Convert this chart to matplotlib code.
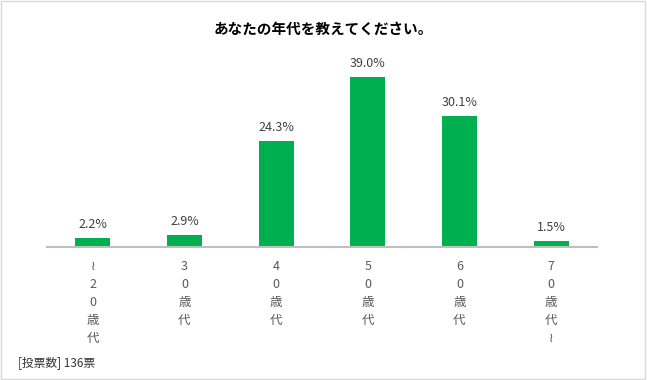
import matplotlib.pyplot as plt
from matplotlib.patches import Rectangle

plt.rcParams['font.family'] = ['Noto Sans CJK JP', 'DejaVu Sans']

# データ
categories = ['≀\n2\n0\n歳\n代', '3\n0\n歳\n代', '4\n0\n歳\n代',
              '5\n0\n歳\n代', '6\n0\n歳\n代', '7\n0\n歳\n代\n≀']
values = [2.2, 2.9, 24.3, 39.0, 30.1, 1.5]
title = 'あなたの年代を教えてください。'
note = '[投票数] 136票'

fig = plt.figure(figsize=(6.47, 3.8), dpi=100)
ax = fig.add_axes([0.0726, 0.3487, 0.85, 0.5013])

x = range(len(values))
bars = ax.bar(x, values, width=0.38, color='#00B050')
ax.set_xlim(-0.5, len(values) - 0.5)
ax.set_ylim(0, 43.6)

for b, v in zip(bars, values):
    ax.text(b.get_x() + b.get_width() / 2, v + 1.6, f'{v:.1f}%',
            ha='center', va='bottom', fontsize=9, color='#404040')

ax.set_xticks(list(x))
ax.set_xticklabels(categories, fontsize=9, color='#595959', linespacing=1.5)
ax.tick_params(axis='x', length=0, pad=9)
ax.set_yticks([])
for s in ['top', 'right', 'left']:
    ax.spines[s].set_visible(False)
ax.spines['bottom'].set_color('#bfbfbf')
ax.spines['bottom'].set_linewidth(1.5)

fig.text(0.5, 0.925, title, ha='center', va='center', fontsize=10.5,
         fontweight='bold', color='#000000')
fig.text(0.028, 0.045, note, ha='left', va='center', fontsize=8.5, color='#333333')

fig.patches.append(Rectangle((0.002, 0.003), 0.995, 0.994, transform=fig.transFigure,
                             fill=False, edgecolor='#d9d9d9', linewidth=1))

fig.savefig('out.png', dpi=100)
